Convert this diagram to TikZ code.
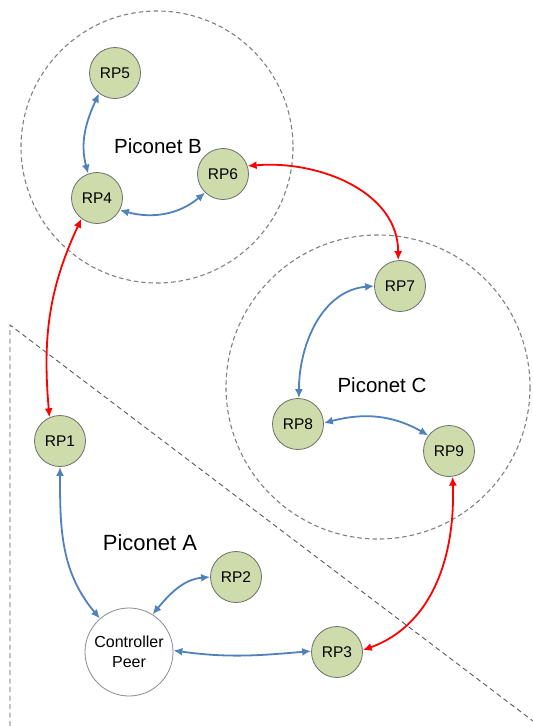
\documentclass[tikz,border=0pt]{standalone}
\usepackage{fontspec}
\setmainfont{Liberation Sans}
\usetikzlibrary{arrows.meta}
\definecolor{peerfill}{RGB}{205,220,170}
\definecolor{peerline}{RGB}{110,110,110}
\definecolor{linkblue}{RGB}{79,129,189}
\definecolor{linkred}{RGB}{255,0,0}
\definecolor{zone}{RGB}{128,128,128}
\tikzset{
  peer/.style={circle, draw=peerline, line width=0.8pt, fill=peerfill,
    minimum size=51pt, inner sep=0pt, font=\fontsize{15.5}{17}\selectfont},
  ctrl/.style={circle, draw=peerline!80, line width=0.8pt, fill=white,
    minimum size=88pt, inner sep=0pt, align=center,
    font=\fontsize{16}{20}\selectfont},
  netlabel/.style={font=\fontsize{20.5}{24}\selectfont},
  netring/.style={draw=zone, line width=1.1pt, dash pattern=on 4.5pt off 3pt},
  zoneline/.style={draw=black!65, line width=0.9pt, dash pattern=on 5pt off 3.5pt},
  local/.style={draw=linkblue, line width=1.8pt,
    {Latex[length=9pt,width=8pt]}-{Latex[length=9pt,width=8pt]}},
  bridge/.style={draw=linkred, line width=1.8pt,
    {Latex[length=9pt,width=8pt]}-{Latex[length=9pt,width=8pt]}},
}
\begin{document}
\begin{tikzpicture}[x=1pt,y=-1pt]
  \useasboundingbox (0,0) rectangle (533,726);

  % piconet boundaries
  \draw[netring] (157,147) circle[radius=136];
  \draw[netring] (378,387) circle[radius=152];
  \coordinate (zA) at (10,325);
  \coordinate (zB) at (10,726);
  \coordinate (zC) at (533,721);
  \draw[zoneline] (zB) -- (zA) -- (zC);

  % labels
  \node[netlabel] (labB) at (158,146) {Piconet B};
  \node[netlabel] (labC) at (382,385) {Piconet C};
  \node[netlabel, font=\fontsize{22}{26}\selectfont] (labA) at (150,543) {Piconet A};

  % peers
  \node[peer] (rp5) at (115,73) {RP5};
  \node[peer] (rp4) at (97,198) {RP4};
  \node[peer] (rp6) at (223,174) {RP6};
  \node[peer] (rp7) at (400,286) {RP7};
  \node[peer] (rp8) at (298,424) {RP8};
  \node[peer] (rp9) at (449,451) {RP9};
  \node[peer] (rp1) at (60,441) {RP1};
  \node[peer] (rp2) at (236,577) {RP2};
  \node[peer] (rp3) at (337,652) {RP3};
  \node[ctrl] (cp) at (129,652) {Controller\\Peer};

  % links inside piconets
  \draw[local] (rp5.232) to[out=245,in=105] (rp4.110);
  \draw[local] (rp4.332) to[out=-15,in=220] (rp6.226);
  \draw[local] (rp7.180) to[out=185,in=90] (rp8.88);
  \draw[local] (rp8.2) to[out=15,in=150] (rp9.143);
  \draw[local] (rp1.270) to[out=-90,in=130] (cp.131);
  \draw[local] (rp2.180) to[out=185,in=50] (cp.58);
  \draw[local] (cp.2) to[out=-8,in=185] (rp3.178);

  % bridges between piconets
  \draw[bridge] (rp6.18) to[out=5,in=90] (rp7.94);
  \draw[bridge] (rp4.233) to[out=245,in=95] (rp1.114);
  \draw[bridge] (rp9.-82) to[out=-88,in=20] (rp3.4);
\end{tikzpicture}
\end{document}
